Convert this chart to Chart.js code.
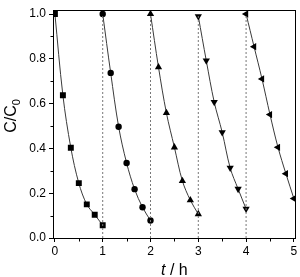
<!DOCTYPE html>
<html>
<head>
<meta charset="utf-8">
<script src="https://cdn.jsdelivr.net/npm/chart.js@4/dist/chart.umd.min.js"></script>
<style>
  body { margin: 0; background: #fff; }
  #wrap { width: 300px; height: 277px; }
</style>
</head>
<body>
<div id="wrap"><canvas id="myChart"></canvas></div>
<script>
// time in hours for each cycle, C/C0
const cycle1T = [0, 0.167, 0.333, 0.5, 0.667, 0.833, 1.0];
const cycle1C = [1.0, 0.637, 0.403, 0.245, 0.15, 0.104, 0.057];
const cycle2T = [1.0, 1.167, 1.333, 1.5, 1.667, 1.833, 2.0];
const cycle2C = [1.0, 0.737, 0.497, 0.335, 0.218, 0.137, 0.078];
const cycle3T = [2.0, 2.167, 2.333, 2.5, 2.667, 2.833, 3.0];
const cycle3C = [1.0, 0.763, 0.558, 0.405, 0.255, 0.169, 0.107];
const cycle4T = [3.0, 3.167, 3.333, 3.5, 3.667, 3.833, 4.0];
const cycle4C = [0.99, 0.792, 0.607, 0.472, 0.313, 0.219, 0.13];
const cycle5T = [4.0, 4.167, 4.333, 4.5, 4.667, 4.833, 5.0];
const cycle5C = [1.0, 0.854, 0.71, 0.551, 0.405, 0.287, 0.176];
const boundaries = [1, 2, 3, 4];
const xTicks = [0, 1, 2, 3, 4, 5];
const xMinor = [0.5, 1.5, 2.5, 3.5, 4.5];
const yTicks = [0, 0.2, 0.4, 0.6, 0.8, 1.0];
const yMinor = [0.1, 0.3, 0.5, 0.7, 0.9];

const FONT = "'Liberation Sans', Arial, sans-serif";

const pts = (ts, cs) => ts.map((t, i) => ({ x: t, y: cs[i] }));

const cycle = (ts, cs, style, rot, r) => ({
  data: pts(ts, cs),
  borderColor: "#3a3a3a",
  borderWidth: 1,
  tension: 0.35,
  pointStyle: style,
  rotation: rot,
  pointRadius: r,
  pointBackgroundColor: "#000",
  pointBorderColor: "#000",
  pointBorderWidth: 0,
});

const dashes = boundaries.map((b) => ({
  data: [{ x: b, y: 0 }, { x: b, y: 1 }],
  borderColor: "#777",
  borderWidth: 1,
  borderDash: [2, 2],
  pointRadius: 0,
}));

const frame = {
  id: "frame",
  afterDraw(chart) {
    const { ctx, chartArea: a, scales } = chart;
    ctx.save();
    ctx.strokeStyle = "#000";
    ctx.lineWidth = 1;
    const L = Math.round(a.left) + 0.5, T = Math.round(a.top) + 0.5;
    const R = Math.round(a.right) - 0.5, B = Math.round(a.bottom) + 0.5;
    ctx.strokeRect(L, T, R - L, B - T);
    // minor ticks
    ctx.beginPath();
    xMinor.forEach((v) => {
      const px = Math.round(scales.x.getPixelForValue(v)) + 0.5;
      ctx.moveTo(px, B);
      ctx.lineTo(px, B + 3);
    });
    yMinor.forEach((v) => {
      const py = Math.round(scales.y.getPixelForValue(v)) + 0.5;
      ctx.moveTo(L, py);
      ctx.lineTo(L - 3, py);
    });
    ctx.stroke();
    ctx.fillStyle = "#000";
    ctx.textBaseline = "alphabetic";
    // x title: italic t / h
    const cx = (a.left + a.right) / 2;
    ctx.font = "italic 16px " + FONT;
    const w1 = ctx.measureText("t").width;
    ctx.font = "16px " + FONT;
    const w2 = ctx.measureText(" / h").width;
    const x0 = cx - (w1 + w2) / 2;
    ctx.font = "italic 16px " + FONT;
    ctx.fillText("t", x0, 275);
    ctx.font = "16px " + FONT;
    ctx.fillText(" / h", x0 + w1, 275);
    // y title: C/C0 with subscript
    ctx.translate(16, 116);
    ctx.rotate(-Math.PI / 2);
    ctx.font = "16px " + FONT;
    const wm = ctx.measureText("C/C").width;
    ctx.font = "11px " + FONT;
    const ws = ctx.measureText("0").width;
    const sx = -(wm + ws) / 2;
    ctx.font = "16px " + FONT;
    ctx.fillText("C/C", sx, 0);
    ctx.font = "11px " + FONT;
    ctx.fillText("0", sx + wm, 4);
    ctx.restore();
  },
};

const ctx = document.getElementById("myChart").getContext("2d");
new Chart(ctx, {
  type: "line",
  data: {
    datasets: [
      ...dashes,
      cycle(cycle1T, cycle1C, "rect", 0, 4.2),
      cycle(cycle2T, cycle2C, "circle", 0, 3.2),
      cycle(cycle3T, cycle3C, "triangle", 0, 4.2),
      cycle(cycle4T, cycle4C, "triangle", 180, 4.2),
      cycle(cycle5T, cycle5C, "triangle", 270, 4.2),
    ],
  },
  options: {
    responsive: true,
    maintainAspectRatio: false,
    animation: false,
    layout: { padding: { top: 3, right: 3, left: 0, bottom: 0 } },
    plugins: { legend: { display: false }, tooltip: { enabled: false } },
    scales: {
      x: {
        type: "linear",
        min: -0.04,
        max: 5.04,
        afterBuildTicks: (s) => { s.ticks = xTicks.map((v) => ({ value: v })); },
        afterFit: (s) => { s.height = 39; },
        border: { color: "#000", width: 1 },
        grid: { drawOnChartArea: false, color: "#000", tickLength: 4 },
        ticks: {
          color: "#000",
          padding: 2,
          maxRotation: 0,
          autoSkip: false,
          font: { family: FONT, size: 12 },
          callback: (v) => String(v),
        },
      },
      y: {
        min: 0,
        max: 1.017,
        afterBuildTicks: (s) => { s.ticks = yTicks.map((v) => ({ value: v })); },
        afterFit: (s) => { s.width = 53; },
        border: { color: "#000", width: 1 },
        grid: { drawOnChartArea: false, color: "#000", tickLength: 4 },
        ticks: {
          color: "#000",
          padding: 3,
          autoSkip: false,
          font: { family: FONT, size: 12 },
          callback: (v) => v.toFixed(1),
        },
      },
    },
  },
  plugins: [frame],
});
</script>
</body>
</html>
